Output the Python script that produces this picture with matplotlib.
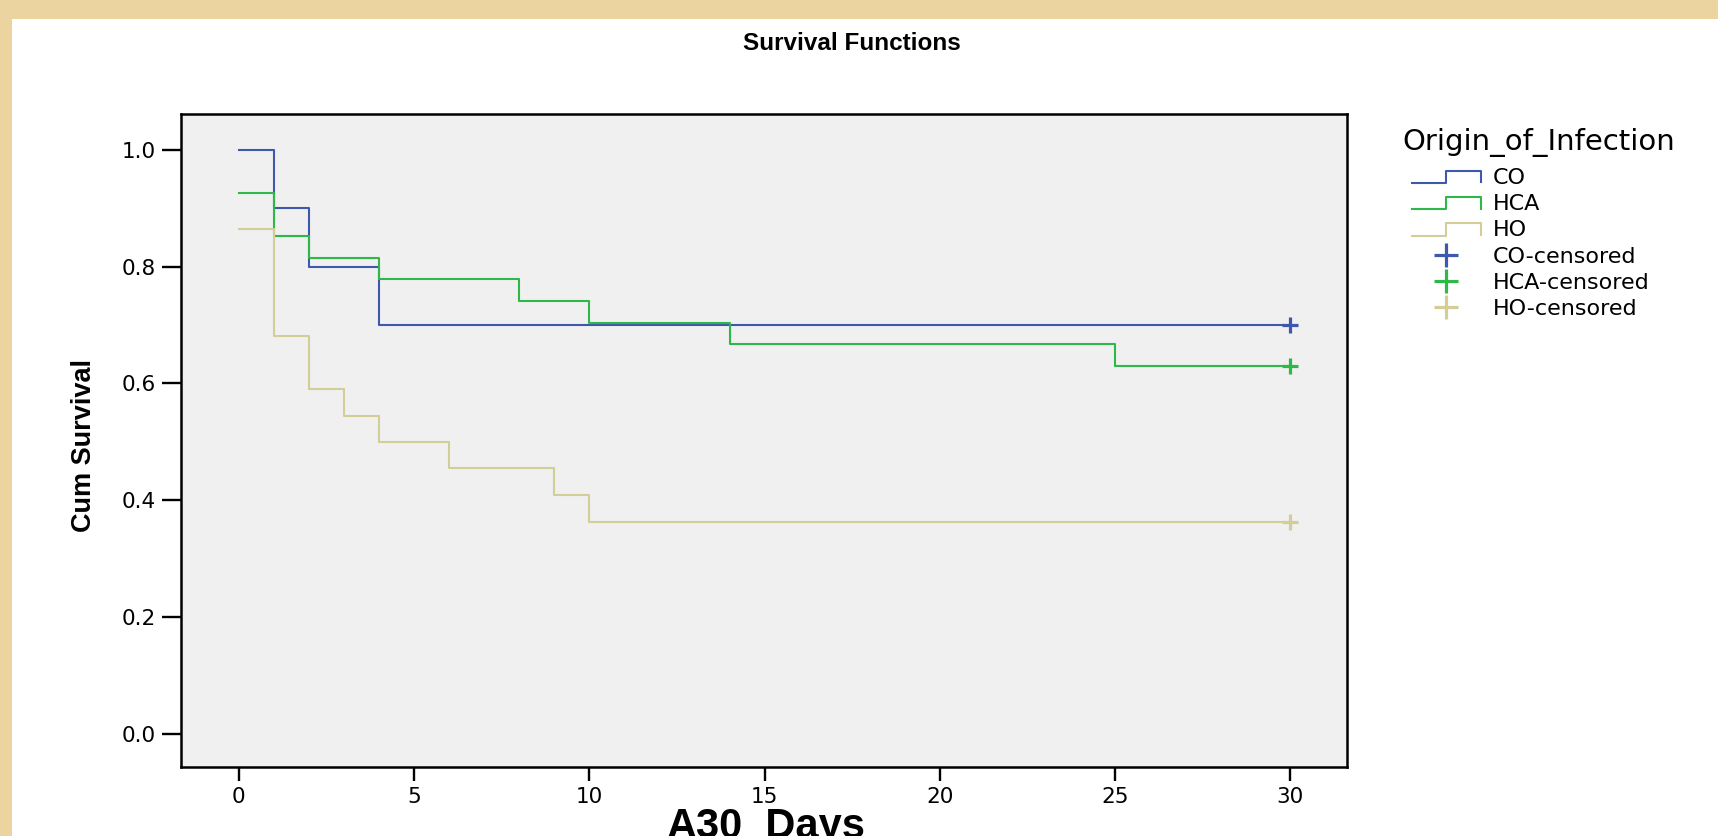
import matplotlib
matplotlib.use('Agg')
import matplotlib.pyplot as plt
from matplotlib.lines import Line2D
from matplotlib.patches import Rectangle
from matplotlib.legend_handler import HandlerBase
from matplotlib import font_manager

# Kaplan-Meier estimates (days, cum survival)
co_days = [0, 1, 2, 4, 30]
co_surv = [1.0, 0.9, 0.8, 0.7, 0.7]
hca_days = [0, 1, 2, 4, 8, 10, 14, 25, 30]
hca_surv = [0.926, 0.852, 0.815, 0.778, 0.741, 0.704, 0.667, 0.630, 0.630]
ho_days = [0, 1, 2, 3, 4, 6, 9, 10, 30]
ho_surv = [0.864, 0.682, 0.591, 0.545, 0.500, 0.455, 0.409, 0.364, 0.364]

groups = ['CO', 'HCA', 'HO']
colors = ['#3E58AC', '#2EB848', '#D3CE97']
xticks = [0, 5, 10, 15, 20, 25, 30]
yticks = [0.0, 0.2, 0.4, 0.6, 0.8, 1.0]

plt.rcParams['font.family'] = ['DejaVu Sans']

W, H = 1718, 836
fig = plt.figure(figsize=(W / 100, H / 100), dpi=100)
fig.patch.set_facecolor('#EBD49F')
# white slide panel
fig.add_artist(Rectangle((12 / W, 0), 1, 1 - 19 / H, transform=fig.transFigure,
                         facecolor='white', edgecolor='none', zorder=0))

ax = fig.add_axes([181 / W, 69 / H, 1165.5 / W, 653 / H])
ax.set_facecolor('#F0F0F0')

all_days = [co_days, hca_days, ho_days]
all_surv = [co_surv, hca_surv, ho_surv]
for d, s, c in zip(all_days, all_surv, colors):
    ax.step(d, s, where='post', color=c, lw=1.5, zorder=3)
    # censored at end of follow-up
    ax.plot(d[-1], s[-1], marker='+', ms=12, mew=2.3, color=c, ls='none', zorder=4)

ax.set_xlim(-1.65, 31.6)
ax.set_ylim(-0.0556, 1.0607)
ax.set_xticks(xticks)
ax.set_xticklabels([str(t) for t in xticks])
ax.set_yticks(yticks)
ax.set_yticklabels(['%.1f' % t for t in yticks])
for sp in ax.spines.values():
    sp.set_linewidth(1.8)
    sp.set_color('black')
ax.tick_params(axis='y', direction='out', length=14, width=1.7, pad=4.0, labelsize=15.5)
ax.tick_params(axis='x', direction='out', length=10, width=1.7, pad=4.5, labelsize=15.5)

# titles
fig.text(852 / W, 1 - 44 / H, 'Survival Functions', ha='center', va='center',
         fontsize=17.5, fontweight='bold', family=['Liberation Sans', 'DejaVu Sans'])
fig.text(766 / W, 1 - 838 / H, 'A30_Days', ha='center', va='baseline',
         fontsize=30, fontweight='bold', family=['Liberation Sans', 'DejaVu Sans'])

names = {f.name for f in font_manager.fontManager.ttflist}
if 'Liberation Sans Narrow' in names:
    fig.text(84 / W, 1 - 445 / H, 'Cum Survival', rotation=90, ha='center', va='center',
             fontsize=23.5, fontweight='bold', family=['Liberation Sans Narrow'])
else:
    fig.text(84 / W, 1 - 445 / H, 'Cum Survival', rotation=90, ha='center', va='center',
             fontsize=19.5, fontweight='bold', family=['Liberation Sans'])


class StepHandler(HandlerBase):
    def create_artists(self, legend, orig_handle, xdescent, ydescent, width, height,
                       fontsize, trans):
        x0 = -xdescent
        xs = [x0, x0 + width * 0.5, x0 + width * 0.5, x0 + width, x0 + width]
        ys = [0.05 * height, 0.05 * height, 0.85 * height, 0.85 * height, 0.1 * height]
        ln = Line2D(xs, [y - ydescent for y in ys], color=orig_handle.get_color(),
                    lw=1.5, transform=trans)
        return [ln]


step_handles = [Line2D([], [], color=c) for c in colors]
cens_handles = [Line2D([], [], color=c, marker='+', ms=17, mew=2.3, ls='none') for c in colors]
labels = groups + [g + '-censored' for g in groups]
handler_map = {h: StepHandler() for h in step_handles}

fig.legend(step_handles + cens_handles, labels, handler_map=handler_map,
           loc='upper left', bbox_to_anchor=(1412 / W, 1 - 168 / H),
           frameon=False, borderpad=0, borderaxespad=0, fontsize=16,
           handlelength=3.1, handletextpad=0.54, labelspacing=0.28, numpoints=1)
fig.text(1402 / W, 1 - 150 / H, 'Origin_of_Infection', ha='left', va='baseline', fontsize=21)

fig.savefig('out.png', dpi=100, facecolor=fig.get_facecolor())
